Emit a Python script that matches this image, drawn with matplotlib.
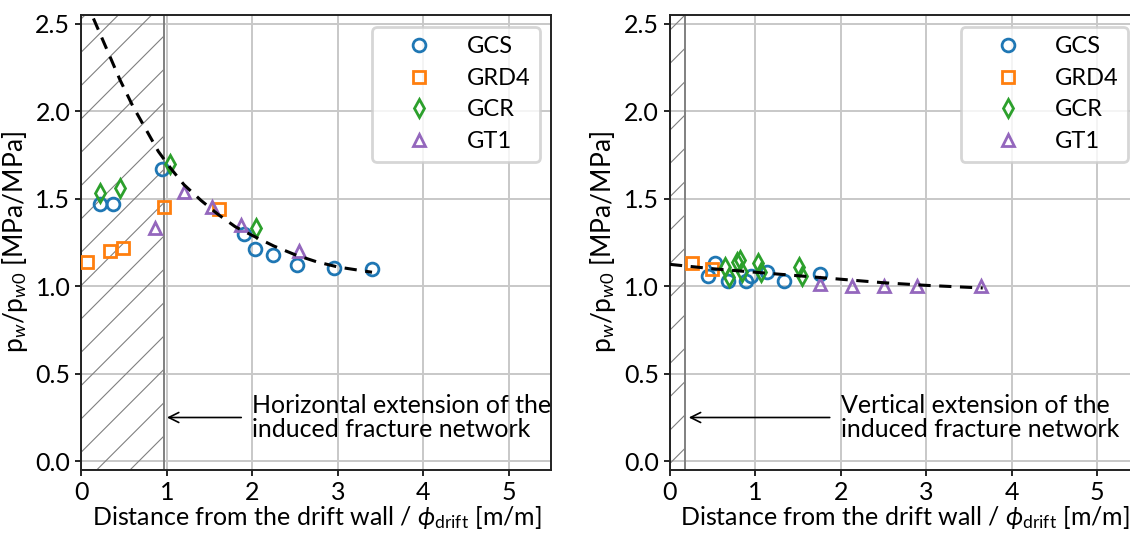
import numpy as np
import matplotlib
matplotlib.use('Agg')
import matplotlib.pyplot as plt

plt.rcParams['font.family'] = ['Lato', 'DejaVu Sans']
plt.rcParams['mathtext.fontset'] = 'custom'
plt.rcParams['mathtext.rm'] = 'Lato'
plt.rcParams['mathtext.it'] = 'Lato:italic'
plt.rcParams['font.size'] = 8
plt.rcParams['hatch.linewidth'] = 0.4

# left panel: horizontal direction
h_gcs_x = [0.22, 0.37, 0.94, 1.90, 2.03, 2.24, 2.52, 2.96, 3.40]
h_gcs_y = [1.47, 1.47, 1.67, 1.30, 1.21, 1.18, 1.12, 1.105, 1.10]
h_grd4_x = [0.06, 0.33, 0.49, 0.97, 1.61]
h_grd4_y = [1.14, 1.20, 1.22, 1.45, 1.44]
h_gcr_x = [0.22, 0.45, 1.035, 2.04]
h_gcr_y = [1.53, 1.56, 1.70, 1.33]
h_gt1_x = [0.86, 1.195, 1.53, 1.87, 2.55]
h_gt1_y = [1.33, 1.54, 1.45, 1.35, 1.20]
h_fit_x = [0.14, 0.3, 0.45, 0.6, 0.75, 0.9, 1.05, 1.2, 1.4, 1.6, 1.8, 2.0, 2.25, 2.5, 2.75, 3.0, 3.2, 3.4]
h_fit_y = [2.53, 2.35, 2.18, 2.03, 1.90, 1.77, 1.67, 1.58, 1.49, 1.41, 1.34, 1.29, 1.23, 1.18, 1.14, 1.11, 1.095, 1.08]
h_zone = 0.96

# right panel: vertical direction
v_gcs_x = [0.45, 0.53, 0.68, 0.89, 0.95, 1.13, 1.34, 1.75]
v_gcs_y = [1.06, 1.13, 1.03, 1.03, 1.06, 1.08, 1.03, 1.07]
v_grd4_x = [0.26, 0.49]
v_grd4_y = [1.13, 1.10]
v_gcr_x = [0.64, 0.69, 0.78, 0.82, 0.84, 1.03, 1.07, 1.51, 1.54]
v_gcr_y = [1.11, 1.05, 1.14, 1.15, 1.08, 1.13, 1.08, 1.11, 1.06]
v_gt1_x = [1.76, 2.13, 2.51, 2.89, 3.64]
v_gt1_y = [1.01, 1.00, 1.00, 1.00, 1.00]
v_fit_x = [0.0, 0.5, 1.0, 1.5, 2.0, 2.5, 3.0, 3.66]
v_fit_y = [1.125, 1.10, 1.08, 1.06, 1.04, 1.02, 1.005, 0.99]
v_zone = 0.18

names = ['GCS', 'GRD4', 'GCR', 'GT1']
markers = ['o', 's', 'd', '^']
colors = ['#1f77b4', '#ff7f0e', '#2ca02c', '#9467bd']

fig = plt.figure(figsize=(5.65, 2.665), dpi=200)
ax1 = fig.add_axes([0.0721, 0.1182, 0.4159, 0.8537])
ax2 = fig.add_axes([0.5929, 0.1182, 0.4159, 0.8537])

panels = [
    (ax1, [(h_gcs_x, h_gcs_y), (h_grd4_x, h_grd4_y), (h_gcr_x, h_gcr_y), (h_gt1_x, h_gt1_y)],
     h_fit_x, h_fit_y, h_zone, 'Horizontal extension of the\ninduced fracture network'),
    (ax2, [(v_gcs_x, v_gcs_y), (v_grd4_x, v_grd4_y), (v_gcr_x, v_gcr_y), (v_gt1_x, v_gt1_y)],
     v_fit_x, v_fit_y, v_zone, 'Vertical extension of the\ninduced fracture network'),
]

for ax, series, fx, fy, zone, txt in panels:
    ax.axvspan(0, zone, facecolor='none', edgecolor='#808080', hatch='//', lw=0.7, zorder=1)
    for (x, y), n, m, c in zip(series, names, markers, colors):
        ax.plot(x, y, linestyle='none', marker=m, ms=4.6, mew=1.0, mfc='none', mec=c, label=n, zorder=3)
    ax.plot(fx, fy, color='k', ls=(0, (4, 2.8)), lw=1.1, zorder=4)
    ax.annotate(txt, xy=(zone + 0.04, 0.25), xytext=(2.0, 0.25), va='center', ha='left',
                fontsize=9, linespacing=1.05,
                arrowprops=dict(arrowstyle='->', color='k', lw=0.6, shrinkA=2, shrinkB=0))
    ax.set_xlim(0, 5.5)
    ax.set_ylim(-0.05, 2.55)
    ax.set_xticks([0, 1, 2, 3, 4, 5])
    ax.set_yticks([0.0, 0.5, 1.0, 1.5, 2.0, 2.5])
    ax.grid(True, color='#c8c8c8', lw=0.7, zorder=0)
    ax.set_axisbelow(True)
    ax.tick_params(length=2, width=0.6, labelsize=9, pad=2)
    for s in ax.spines.values():
        s.set_linewidth(0.7)
        s.set_color('#222222')
    ax.set_xlabel(r'Distance from the drift wall / $\phi_{\mathrm{drift}}$ [m/m]', fontsize=9, labelpad=0)
    ax.set_ylabel(r'p$_w$/p$_{w0}$ [MPa/MPa]', fontsize=9.5, labelpad=2)
    ax.legend(loc='upper right', handlelength=3.2, handletextpad=0.4, fontsize=8.5, framealpha=0.8,
              labelspacing=0.45, borderaxespad=0.5)

plt.savefig('out.png', dpi=200)
